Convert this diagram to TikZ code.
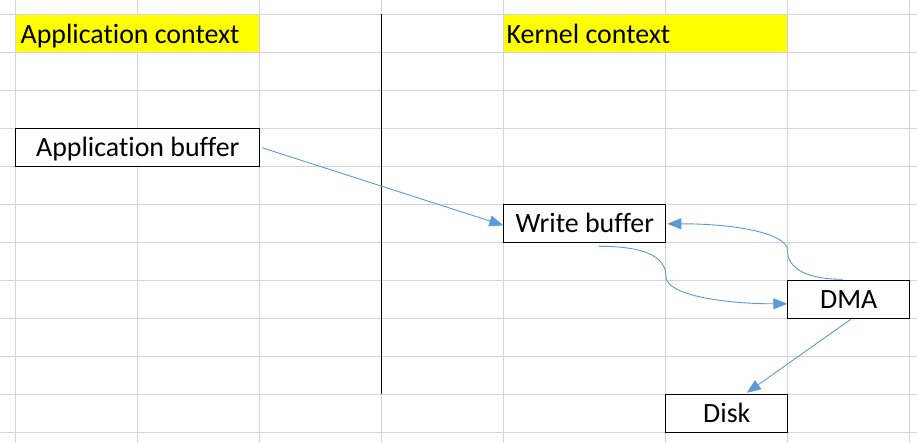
\documentclass[tikz,border=0pt]{standalone}
\usepackage{fontspec}
\setmainfont[RawFeature={-liga;-clig}]{Carlito}
\usetikzlibrary{arrows.meta,calc}
\definecolor{gridgray}{HTML}{D4D4D4}
\definecolor{arrowblue}{HTML}{5B9BD5}
\definecolor{hiyellow}{HTML}{FFFF00}
\begin{document}
\begin{tikzpicture}[x=1pt,y=-1pt,
  gridline/.style={draw=gridgray, line width=1pt},
  cellbox/.style={draw=black, line width=1pt, fill=white, anchor=north west,
    minimum height=38pt, inner sep=0pt, text height=18pt, text depth=0pt,
    font=\fontsize{27.9}{30}\selectfont},
  hibox/.style={fill=hiyellow, anchor=north west, minimum height=37pt, inner sep=0pt},
  hitext/.style={anchor=base west, inner sep=0pt, font=\fontsize{27.9}{30}\selectfont},
  flow/.style={draw=arrowblue, line width=0.9pt, -{Triangle[length=14pt,width=11pt]}}]
\useasboundingbox (0,0) rectangle (917,443);
\fill[white] (0,0) rectangle (917,443);
% spreadsheet grid
\foreach \gx in {15.3,137.3,259.3,381.3,503.3,665.3,787.3,909.3}
  \draw[gridline] (\gx,0) -- (\gx,443);
\foreach \gy in {14.3,52.3,90.3,128.3,166.3,204.3,242.3,280.3,318.3,356.3,394.3,432.3}
  \draw[gridline] (0,\gy) -- (917,\gy);
% yellow headers
\node[hibox, minimum width=243pt] (apphdr) at (15.8,14.8) {};
\node[hibox, minimum width=283pt] (kernhdr) at (503.8,14.8) {};
\node[hitext] (apptxt) at (20.4,43.5) {Application context};
\node[hitext] (kerntxt) at (506.5,43.5) {Kernel context};
% separator
\coordinate (septop) at (381.3,14.3);
\coordinate (sepbot) at (381.3,394.3);
\draw[black, line width=1.3pt] (septop) -- (sepbot);
% boxes
\node[cellbox, minimum width=244pt] (appbuf) at (15.3,128.3) {Application buffer};
\node[cellbox, minimum width=162pt] (wbuf) at (503.3,204.3) {Write buffer};
\node[cellbox, minimum width=122pt] (dma) at (787.3,280.3) {DMA};
\node[cellbox, minimum width=122pt] (disk) at (665.3,394.3) {Disk};
% connectors
\draw[flow] ($(appbuf.east)+(2,0)$) -- ($(wbuf.west)+(0,1.5)$);
\coordinate (m1) at (666,276.7);
\draw[flow] ($(wbuf.south)+(14,3)$) .. controls +(42,0) and +(0,-22) .. (m1)
  .. controls +(0,18) and +(-65,0) .. ($(dma.west)+(0,4)$);
\coordinate (m2) at (787.3,250);
\draw[flow] ($(dma.north)+(-6,-1)$) .. controls +(-42,0) and +(0,15) .. (m2)
  .. controls +(0,-15) and +(75,0) .. ($(wbuf.east)+(1,0)$);
\draw[flow] ($(dma.south)+(2,0)$) -- ($(disk.north)+(20,-1.5)$);
\end{tikzpicture}
\end{document}
